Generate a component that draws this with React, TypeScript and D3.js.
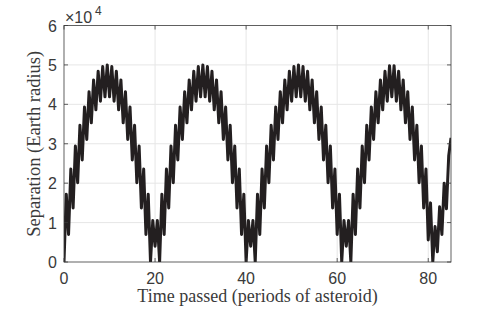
import React from 'react';
import * as d3 from 'd3';

// Separation sampled at whole periods (troughs) and half periods (crests), Earth radii
const troughValues = [
  0, 7000, 13700, 20100, 25900, 31100, 35300, 38600, 40800, 41900,
  41900, 40800, 38600, 35300, 31100, 25900, 20100, 13700, 7000, 0, 4000, 0, 7000, 13700, 20100, 25900, 31100, 35300, 38600, 40800, 41900,
  41900, 40800, 38600, 35300, 31100, 25900, 20100, 13700, 7000, 0, 4000, 0, 7000, 13700, 20100, 25900, 31100, 35300, 38600, 40800, 41900,
  41900, 40800, 38600, 35300, 31100, 25900, 20100, 13700, 7000, 0, 4000, 0, 7000, 13700, 20100, 25900, 31100, 35300, 38600, 40800, 41900,
  40800, 38600, 35300, 31100, 25900, 20100, 13700, 5600, 0, 2600, 7000, 13500, 31500,
];
const crestValues = [
  17200, 23600, 29400, 34700, 39300, 43200, 46200, 48400, 49600, 50000,
  49600, 48400, 46200, 43200, 39300, 34700, 29400, 23600, 17200, 10500, 10500, 17200, 23600, 29400, 34700, 39300, 43200, 46200, 48400, 49600, 50000,
  49600, 48400, 46200, 43200, 39300, 34700, 29400, 23600, 17200, 10500, 10500, 17200, 23600, 29400, 34700, 39300, 43200, 46200, 48400, 49600, 50000,
  49600, 48400, 46200, 43200, 39300, 34700, 29400, 23600, 17200, 10500, 10500, 17200, 23600, 29400, 34700, 39300, 43200, 46200, 48400, 49800,
  49800, 48400, 46200, 43200, 39300, 34700, 29400, 23600, 15000, 9000, 14000, 20000, 27000,
];
const xTicks = [0, 20, 40, 60, 80];
const yTicks = [0, 1, 2, 3, 4, 5, 6];
const yExponent = 4;
const xDomain = [0, 85];
const yDomainMax = 6;
const xLabel = 'Time passed (periods of asteroid)';
const yLabel = 'Separation (Earth radius)';

export default function App() {
  const W = 498;
  const H = 309;
  const left = 64, right = 451, top = 25.5, bottom = 262;
  const scale = Math.pow(10, yExponent);
  const x = d3.scaleLinear().domain(xDomain).range([left, right]);
  const y = d3.scaleLinear().domain([0, yDomainMax * scale]).range([bottom, top]);

  const pts: [number, number][] = [];
  troughValues.forEach((v, k) => {
    pts.push([k, v]);
    if (k < crestValues.length) pts.push([k + 0.5, crestValues[k]]);
  });
  const line = d3.line<[number, number]>().x(d => x(d[0])).y(d => y(d[1]));

  const tickFont = '"Liberation Sans", Arial, sans-serif';
  const labelFont = '"Liberation Serif", "Times New Roman", serif';
  const axisColor = '#3a3a3a';
  const tickLen = 4;

  return (
    <svg width={W} height={H} style={{ position: 'absolute', left: 0, top: 0, background: '#fff' }}>
      <defs>
        <clipPath id="plotclip">
          <rect x={left} y={top} width={right - left} height={bottom - top} />
        </clipPath>
      </defs>
      <rect x={0} y={0} width={W} height={H} fill="#fff" />
      {/* grid */}
      {xTicks.filter(t => t > xDomain[0]).map(t => (
        <line key={'gx' + t} x1={x(t)} x2={x(t)} y1={top} y2={bottom} stroke="#e6e6e6" strokeWidth={1} />
      ))}
      {yTicks.filter(t => t > 0 && t < yDomainMax).map(t => (
        <line key={'gy' + t} x1={left} x2={right} y1={y(t * scale)} y2={y(t * scale)} stroke="#e6e6e6" strokeWidth={1} />
      ))}
      {/* data */}
      <g clipPath="url(#plotclip)">
        <path d={line(pts) || ''} fill="none" stroke="#231f20" strokeWidth={3} strokeLinejoin="round" />
      </g>
      {/* box */}
      <rect x={left} y={top} width={right - left} height={bottom - top} fill="none" stroke={axisColor} strokeWidth={0.8} />
      {/* ticks */}
      {xTicks.map(t => (
        <g key={'tx' + t}>
          <line x1={x(t)} x2={x(t)} y1={bottom} y2={bottom - tickLen} stroke={axisColor} strokeWidth={0.8} />
          <line x1={x(t)} x2={x(t)} y1={top} y2={top + tickLen} stroke={axisColor} strokeWidth={0.8} />
          <text x={x(t)} y={283.5} textAnchor="middle" fontFamily={tickFont} fontSize={16} fill={axisColor}>{t}</text>
        </g>
      ))}
      {yTicks.map(t => (
        <g key={'ty' + t}>
          <line x1={left} x2={left + tickLen} y1={y(t * scale)} y2={y(t * scale)} stroke={axisColor} strokeWidth={0.8} />
          <line x1={right} x2={right - tickLen} y1={y(t * scale)} y2={y(t * scale)} stroke={axisColor} strokeWidth={0.8} />
          <text x={57} y={y(t * scale) + 6} textAnchor="end" fontFamily={tickFont} fontSize={16} fill={axisColor}>{t}</text>
        </g>
      ))}
      {/* exponent */}
      <text x={65} y={23} fontFamily={tickFont} fontSize={16} fill={axisColor}>
        ×10
      </text>
      <text x={95} y={15} fontFamily={tickFont} fontSize={12} fill={axisColor}>{yExponent}</text>
      {/* labels */}
      <text x={(left + right) / 2} y={302} textAnchor="middle" fontFamily={labelFont} fontSize={18} fill={axisColor}>{xLabel}</text>
      <text transform={`translate(40,${(top + bottom) / 2}) rotate(-90)`} textAnchor="middle" fontFamily={labelFont} fontSize={18.5} fill={axisColor}>{yLabel}</text>
    </svg>
  );
}
